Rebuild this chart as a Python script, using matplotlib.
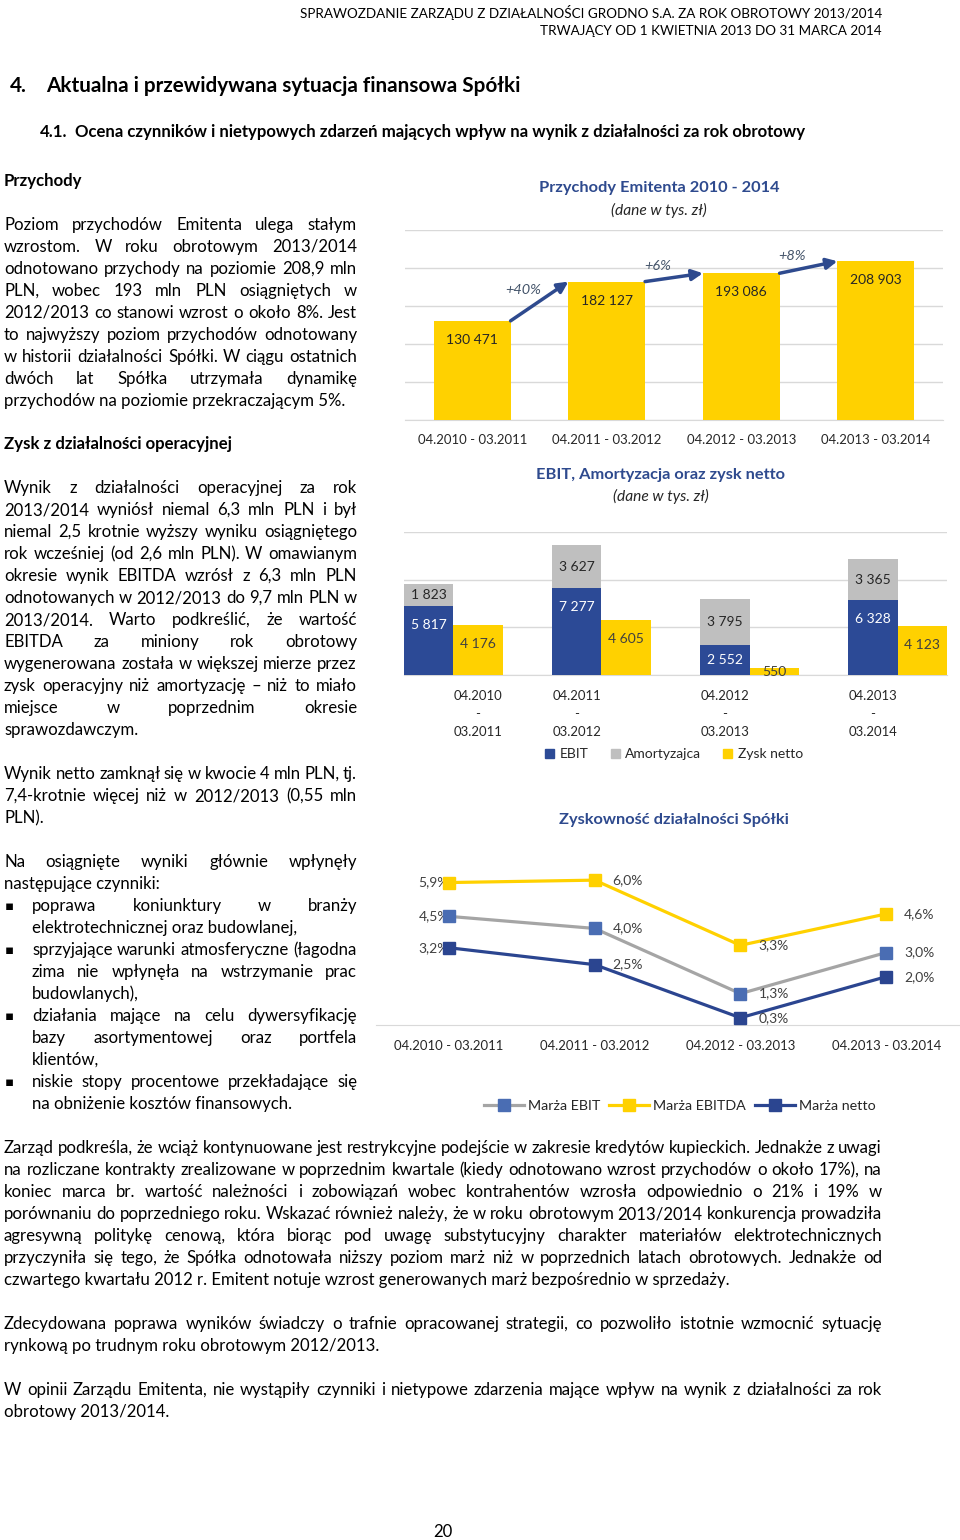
import numpy as np
import matplotlib
matplotlib.use('Agg')
import matplotlib.pyplot as plt
from matplotlib.font_manager import FontProperties
from matplotlib.patches import Patch
from matplotlib.lines import Line2D

FAMILY = ['Lato', 'DejaVu Sans']
plt.rcParams['font.family'] = FAMILY

# chart data (tys. zl and %)
periods = ['04.2010 - 03.2011', '04.2011 - 03.2012', '04.2012 - 03.2013', '04.2013 - 03.2014']
periods_wrapped = ['04.2010\n-\n03.2011', '04.2011\n-\n03.2012', '04.2012\n-\n03.2013', '04.2013\n-\n03.2014']
revenue = [130471, 182127, 193086, 208903]
ebit = [5817, 7277, 2552, 6328]
amort = [1823, 3627, 3795, 3365]
net_profit = [4176, 4605, 550, 4123]
margin_ebit = [4.5, 4.0, 1.3, 3.0]
margin_ebitda = [5.9, 6.0, 3.3, 4.6]
margin_net = [3.2, 2.5, 0.3, 2.0]

# page text
header_lines = ['SPRAWOZDANIE ZARZĄDU Z DZIAŁALNOŚCI GRODNO S.A. ZA ROK OBROTOWY 2013/2014',
                'TRWAJĄCY OD 1 KWIETNIA 2013 DO 31 MARCA 2014']
para_przychody = ['Poziom przychodów Emitenta ulega stałym',
                  'wzrostom. W roku obrotowym 2013/2014',
                  'odnotowano przychody na poziomie 208,9 mln',
                  'PLN, wobec 193 mln PLN osiągniętych w',
                  '2012/2013 co stanowi wzrost o około 8%. Jest',
                  'to najwyższy poziom przychodów odnotowany',
                  'w historii działalności Spółki. W ciągu ostatnich',
                  'dwóch lat Spółka utrzymała dynamikę',
                  'przychodów na poziomie przekraczającym 5%.']
para_zysk = ['Wynik z działalności operacyjnej za rok',
             '2013/2014 wyniósł niemal 6,3 mln PLN i był',
             'niemal 2,5 krotnie wyższy wyniku osiągniętego',
             'rok wcześniej (od 2,6 mln PLN). W omawianym',
             'okresie wynik EBITDA wzrósł z 6,3 mln PLN',
             'odnotowanych w 2012/2013 do 9,7 mln PLN w',
             '2013/2014. Warto podkreślić, że wartość',
             'EBITDA za miniony rok obrotowy',
             'wygenerowana została w większej mierze przez',
             'zysk operacyjny niż amortyzację – niż to miało',
             'miejsce w poprzednim okresie',
             'sprawozdawczym.']
para_netto = ['Wynik netto zamknął się w kwocie 4 mln PLN, tj.',
              '7,4-krotnie więcej niż w 2012/2013 (0,55 mln',
              'PLN).']
para_czynniki = ['Na osiągnięte wyniki głównie wpłynęły',
                 'następujące czynniki:']
bullets = [['poprawa koniunktury w branży',
            'elektrotechnicznej oraz budowlanej,'],
           ['sprzyjające warunki atmosferyczne (łagodna',
            'zima nie wpłynęła na wstrzymanie prac',
            'budowlanych),'],
           ['działania mające na celu dywersyfikację',
            'bazy asortymentowej oraz portfela',
            'klientów,'],
           ['niskie stopy procentowe przekładające się',
            'na obniżenie kosztów finansowych.']]
para_zarzad = ['Zarząd podkreśla, że wciąż kontynuowane jest restrykcyjne podejście w zakresie kredytów kupieckich. Jednakże z uwagi',
               'na rozliczane kontrakty zrealizowane w poprzednim kwartale (kiedy odnotowano wzrost przychodów o około 17%), na',
               'koniec marca br. wartość należności i zobowiązań wobec kontrahentów wzrosła odpowiednio o 21% i 19% w',
               'porównaniu do poprzedniego roku. Wskazać również należy, że w roku obrotowym 2013/2014 konkurencja prowadziła',
               'agresywną politykę cenową, która biorąc pod uwagę substytucyjny charakter materiałów elektrotechnicznych',
               'przyczyniła się tego, że Spółka odnotowała niższy poziom marż niż w poprzednich latach obrotowych. Jednakże od',
               'czwartego kwartału 2012 r. Emitent notuje wzrost generowanych marż bezpośrednio w sprzedaży.']
para_strategia = ['Zdecydowana poprawa wyników świadczy o trafnie opracowanej strategii, co pozwoliło istotnie wzmocnić sytuację',
                  'rynkową po trudnym roku obrotowym 2012/2013.']
para_opinia = ['W opinii Zarządu Emitenta, nie wystąpiły czynniki i nietypowe zdarzenia mające wpływ na wynik z działalności za rok',
               'obrotowy 2013/2014.']

YELLOW = '#FFD100'
BLUE = '#2C4A96'
GRAY = '#BFBFBF'
NET = '#2B4590'
EBIT_LINE = '#A5A5A5'
EBIT_MARK = '#4A6DB3'
TITLE = '#2E4A8E'
GRID = '#D9D9D9'
LABEL = '#404040'
ARROW = '#2E4A8E'

W, H = 960, 1540
fig = plt.figure(figsize=(9.6, 15.4), dpi=100)
renderer = fig.canvas.get_renderer()


def fx(x):
    return x / W


def fy(y):
    return 1 - y / H


def rect(x0, y0, x1, y1):
    return [x0 / W, 1 - y1 / H, (x1 - x0) / W, (y1 - y0) / H]


def text_w(s, size, weight='normal', style='normal'):
    fp = FontProperties(family=FAMILY, size=size, weight=weight, style=style)
    w, h, d = renderer.get_text_width_height_descent(s, fp, ismath=False)
    return w


def fit(s, width, weight='normal', style='normal'):
    return 12 * width / text_w(s, 12, weight, style)


def put_line(s, x0, x1, yc, size, justify=True, weight='normal'):
    yb = fy(yc + 6)
    words = s.split(' ')
    if not justify or len(words) == 1:
        fig.text(fx(x0), yb, s, size=size, weight=weight, va='baseline', ha='left')
        return
    widths = [text_w(w_, size, weight) for w_ in words]
    gap = (x1 - x0 - sum(widths)) / (len(words) - 1)
    x = x0
    for w_, wd in zip(words, widths):
        fig.text(fx(x), yb, w_, size=size, weight=weight, va='baseline', ha='left')
        x += wd + gap


def paragraph(lines, x0, x1, y0, size, pitch=22):
    for k, s in enumerate(lines):
        put_line(s, x0, x1, y0 + k * pitch, size, justify=(k < len(lines) - 1))


body = fit('przychodów na poziomie przekraczającym 5%.', 340)

# header + headings
hs = fit(header_lines[0], 582)
fig.text(fx(882), fy(12), header_lines[0], size=hs, ha='right', va='center')
fig.text(fx(882), fy(31), header_lines[1], size=hs, ha='right', va='center')
h1 = fit('Aktualna i przewidywana sytuacja finansowa Spółki', 472, 'bold')
fig.text(fx(10), fy(86), '4.', size=h1, weight='bold', va='center')
fig.text(fx(46), fy(86), 'Aktualna i przewidywana sytuacja finansowa Spółki', size=h1, weight='bold', va='center')
h2s = 'Ocena czynników i nietypowych zdarzeń mających wpływ na wynik z działalności za rok obrotowy'
h2 = fit(h2s, 728, 'bold')
fig.text(fx(40), fy(132), '4.1.', size=h2, weight='bold', va='center')
fig.text(fx(75), fy(132), h2s, size=h2, weight='bold', va='center')

# left column
put_line('Przychody', 4, 357, 180, body, justify=False, weight='bold')
paragraph(para_przychody, 4, 357, 224, body)
put_line('Zysk z działalności operacyjnej', 4, 357, 443, body, justify=False, weight='bold')
paragraph(para_zysk, 4, 357, 487, body)
paragraph(para_netto, 4, 357, 773, body)
paragraph(para_czynniki, 4, 357, 861, body)
yb = 905
for item in bullets:
    fig.text(fx(5), fy(yb + 1), '▪', size=body * 0.8, va='center', ha='left', family='DejaVu Sans')
    paragraph(item, 32, 357, yb, body)
    yb += 22 * len(item)

# full-width paragraphs
paragraph(para_zarzad, 4, 882, 1147, body)
paragraph(para_strategia, 4, 882, 1323, body)
paragraph(para_opinia, 4, 882, 1389, body)
fig.text(fx(443), fy(1532), '20', size=body, ha='center', va='center')

cs = fit(periods[0], 109)
ts = fit('Przychody Emitenta 2010 - 2014', 239, 'bold')
ss = fit('(dane w tys. zł)', 95, style='italic')


def fmt(v):
    return f'{v:,}'.replace(',', ' ')


def pct(v):
    return f'{v:.1f}%'.replace('.', ',')


def style_axes(ax):
    for side in ['top', 'left', 'right']:
        ax.spines[side].set_visible(False)
    ax.spines['bottom'].set_color(GRID)
    ax.tick_params(axis='y', left=False, labelleft=False)
    ax.tick_params(axis='x', length=0, labelsize=cs, labelcolor='#262626')
    ax.set_facecolor('none')


# chart 1: revenue
x = np.arange(len(periods))
fig.text(fx(659), fy(188), 'Przychody Emitenta 2010 - 2014', size=ts, weight='bold', color=TITLE, ha='center', va='center')
fig.text(fx(659), fy(210), '(dane w tys. zł)', size=ss, style='italic', color='#262626', ha='center', va='center')
ax1 = fig.add_axes(rect(405, 230, 943, 420))
bw = 0.57
ax1.bar(x, revenue, width=bw, color=YELLOW, zorder=3)
ax1.set_xlim(-0.5, len(x) - 0.5)
ax1.set_ylim(0, 250000)
ax1.set_yticks(np.arange(0, 250001, 50000))
ax1.yaxis.grid(True, color=GRID, lw=1)
ax1.set_axisbelow(True)
ax1.set_xticks(x, periods)
style_axes(ax1)
ax1.tick_params(axis='x', pad=10)
for xi, v in zip(x, revenue):
    ax1.annotate(fmt(v), (xi, v), xytext=(0, -19), textcoords='offset pixels',
                 ha='center', va='center', size=cs * 1.05, color='#262626', zorder=4)
for i in range(len(x) - 1):
    p0 = (x[i] + bw / 2, revenue[i])
    p1 = (x[i + 1] - bw / 2, revenue[i + 1])
    ax1.annotate('', xy=p1, xytext=p0,
                 arrowprops=dict(arrowstyle='-|>', color=ARROW, lw=2.5, mutation_scale=16,
                                 shrinkA=0, shrinkB=0), zorder=5)
    growth = round((revenue[i + 1] / revenue[i] - 1) * 100)
    ax1.annotate(f'+{growth}%', ((p0[0] + p1[0]) / 2, (p0[1] + p1[1]) / 2), xytext=(-16, 11),
                 textcoords='offset pixels', ha='center', va='center', size=cs * 1.1,
                 style='italic', color='#44546A')

# chart 2: EBIT, amortisation, net profit
fig.text(fx(661), fy(475), 'EBIT, Amortyzacja oraz zysk netto', size=ts, weight='bold', color=TITLE, ha='center', va='center')
fig.text(fx(661), fy(496), '(dane w tys. zł)', size=ss, style='italic', color='#262626', ha='center', va='center')
ax2 = fig.add_axes(rect(404, 532, 947, 675))
w2 = 0.333
ax2.bar(x - w2 / 2, ebit, w2, color=BLUE, zorder=3)
ax2.bar(x - w2 / 2, amort, w2, bottom=ebit, color=GRAY, zorder=3)
ax2.bar(x + w2 / 2, net_profit, w2, color=YELLOW, zorder=3)
ax2.set_xlim(-w2, len(x) - 1 + w2)
ax2.set_ylim(0, 12000)
ax2.set_yticks([0, 4000, 8000, 12000])
ax2.yaxis.grid(True, color=GRID, lw=1)
ax2.set_axisbelow(True)
label_pos = [xi + w2 / 2 if i == 0 else xi - w2 / 2 for i, xi in enumerate(x)]
ax2.set_xticks(label_pos, periods_wrapped)
style_axes(ax2)
ax2.tick_params(axis='x', pad=11)
for t in ax2.get_xticklabels():
    t.set_linespacing(1.6)
px_per = (675 - 532) / 12000
for xi, e, a, n in zip(x, ebit, amort, net_profit):
    ax2.annotate(fmt(e), (xi - w2 / 2, e), xytext=(0, -min(19, e * px_per / 2)), textcoords='offset pixels',
                 ha='center', va='center', size=cs * 1.05, color='white', zorder=4)
    ax2.annotate(fmt(a), (xi - w2 / 2, e + a / 2), ha='center', va='center', size=cs * 1.05,
                 color='#262626', zorder=4)
    ax2.annotate(fmt(n), (xi + w2 / 2, n), xytext=(0, -min(19, n * px_per / 2)), textcoords='offset pixels',
                 ha='center', va='center', size=cs * 1.05, color=LABEL, zorder=4)
handles2 = [Patch(color=BLUE), Patch(color=GRAY), Patch(color=YELLOW)]
fig.legend(handles2, ['EBIT', 'Amortyzajca', 'Zysk netto'], loc='center', ncol=3,
           bbox_to_anchor=(fx(674), fy(754)), frameon=False, fontsize=cs * 1.05,
           handlelength=0.65, handleheight=0.65, handletextpad=0.4, columnspacing=1.6,
           labelcolor='#262626')

# chart 3: margins
fig.text(fx(674), fy(820), 'Zyskowność działalności Spółki', size=ts, weight='bold', color=TITLE, ha='center', va='center')
ax3 = fig.add_axes(rect(376, 856, 959, 1025))
ax3.plot(x, margin_ebit, color=EBIT_LINE, lw=2.3, marker='s', ms=8.5, mfc=EBIT_MARK, mec=EBIT_MARK, zorder=3)
ax3.plot(x, margin_ebitda, color=YELLOW, lw=2.3, marker='s', ms=8.5, mfc=YELLOW, mec=YELLOW, zorder=3)
ax3.plot(x, margin_net, color=NET, lw=2.3, marker='s', ms=8.5, mfc=NET, mec=NET, zorder=3)
ax3.set_xlim(-0.5, len(x) - 0.5)
ax3.set_ylim(0, 7)
ax3.set_xticks(x, periods)
style_axes(ax3)
ax3.tick_params(axis='x', pad=11)
for series in [margin_ebitda, margin_ebit, margin_net]:
    for i, (xi, v) in enumerate(zip(x, series)):
        if i == 0:
            ax3.annotate(pct(v), (xi, v), xytext=(0, 0), textcoords='offset pixels',
                         ha='right', va='center', size=cs * 1.05, color=LABEL, zorder=2)
        else:
            ax3.annotate(pct(v), (xi, v), xytext=(18, 0), textcoords='offset pixels',
                         ha='left', va='center', size=cs * 1.05, color=LABEL, zorder=4)
handles3 = [Line2D([], [], color=EBIT_LINE, lw=2.3, marker='s', ms=8, mfc=EBIT_MARK, mec=EBIT_MARK),
            Line2D([], [], color=YELLOW, lw=2.3, marker='s', ms=8, mfc=YELLOW, mec=YELLOW),
            Line2D([], [], color=NET, lw=2.3, marker='s', ms=8, mfc=NET, mec=NET)]
fig.legend(handles3, ['Marża EBIT', 'Marża EBITDA', 'Marża netto'], loc='center', ncol=3,
           bbox_to_anchor=(fx(680), fy(1106)), frameon=False, fontsize=cs * 1.08,
           handlelength=2.8, handletextpad=0.3, columnspacing=0.6, labelcolor='#262626')

fig.savefig('out.png', dpi=100)
